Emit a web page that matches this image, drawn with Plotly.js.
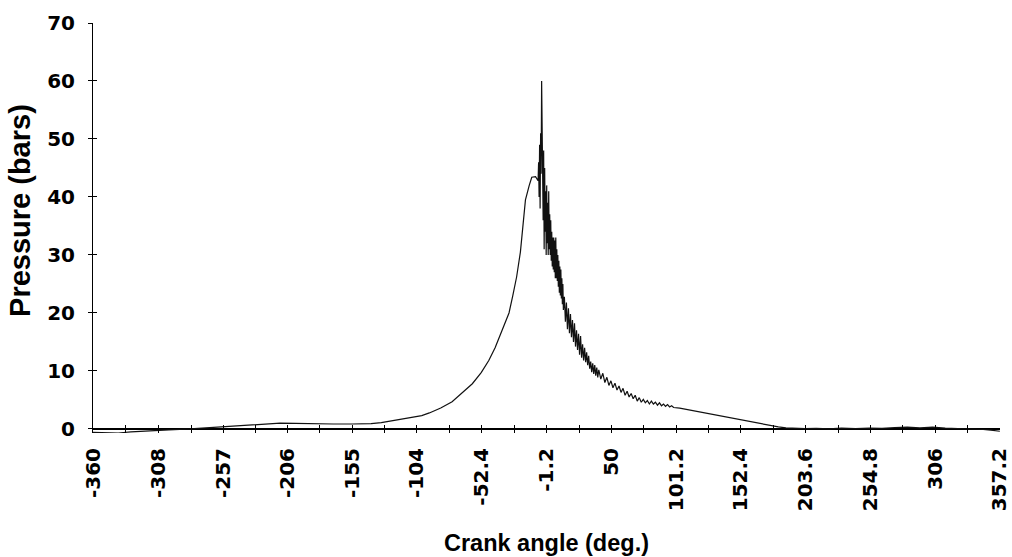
<!DOCTYPE html>
<html>
<head>
<meta charset="utf-8">
<script src="https://cdn.plot.ly/plotly-3.0.1.min.js"></script>
<style>
  html, body { margin: 0; padding: 0; background: #fff; }
  #chart { width: 1012px; height: 557px; }
</style>
</head>
<body>
<div id="chart"></div>
<script>
// Cylinder pressure over one engine cycle (crank angle in degrees, pressure in bars)

// Intake and compression stroke
const compressionAngle = [-360, -350, -340, -330, -317, -300, -283, -270, -257, -245, -231, -220, -212,
  -200, -186, -170, -155, -140, -132, -125, -115, -108, -100, -94, -85, -76, -68, -60, -53, -47, -42,
  -37, -31, -28, -25, -22, -20, -18, -15, -13, -10, -9, -8];
const compressionPressure = [-0.6, -0.7, -0.7, -0.5, -0.3, -0.15, 0, 0.2, 0.4, 0.55, 0.7, 0.85, 1.0,
  0.95, 0.85, 0.85, 0.85, 0.9, 1.1, 1.35, 1.65, 1.9, 2.3, 2.76, 3.6, 4.7, 6.2, 7.8, 9.7, 11.8, 14.0,
  16.8, 20, 23, 26.2, 30.5, 35, 39.5, 42, 43.4, 43.5, 43.2, 42.8];

// Combustion around TDC, with strong pressure oscillation
const combustionAngle = [-7.6, -7.2, -6.8, -6.4, -6.0, -5.6, -5.2, -4.8, -4.4, -4.0, -3.6, -3.2, -2.8,
  -2.4, -2.0, -1.6, -1.2, -0.8, -0.4, 0, 0.4, 0.8, 1.2, 1.6, 2.0, 2.4, 2.8, 3.2, 3.6, 4.0, 4.4, 4.8,
  5.2, 5.6, 6.0, 6.4, 6.8, 7.2, 7.6, 8.0, 8.4, 8.8, 9.2, 9.6, 10.0, 10.4, 10.8, 11.2, 11.6, 12.0];
const combustionPressure = [46, 40, 49, 38, 51, 44, 60, 47, 52, 36, 48, 31, 45,
  34, 41, 30, 42, 32, 39, 30, 41, 31, 37, 30, 36, 29, 34, 28, 33, 27.5, 33, 27,
  32.5, 26, 33, 26, 31, 25.5, 30, 24.5, 29, 23.5, 28, 23, 27.5, 22.5, 26, 21.5, 25, 20.5];

// Early expansion, oscillation dying out
const earlyExpansionAngle = [12.8, 13.6, 14.4, 15.2, 16.0, 16.8, 17.6, 18.4, 19.2, 20.0, 20.8, 21.6,
  22.4, 23.2, 24.0, 24.8, 25.6, 26.4, 27.2, 28.0, 28.8, 29.6, 30.4, 31.2, 32.0, 32.8, 33.6, 34.4,
  35.2, 36.0, 36.8, 37.6, 38.4, 39.2, 40.0,
  41.6, 43.2, 44.8, 46.4, 48.0, 49.6, 51.2, 52.8, 54.4, 56.0, 57.6, 59.2, 60.8, 62.4, 64.0, 65.6,
  67.2, 68.8, 70.4, 72.0, 73.6, 75.2, 76.8, 78.4, 80.0, 81.6, 83.2, 84.8, 86.4, 88.0, 89.6, 91.2,
  92.8, 94.4, 96.0, 97.6, 99.2];
const earlyExpansionPressure = [22.8, 18.5, 21.8, 17.2, 20.8, 16.5, 19.8, 15.8, 18.8, 15.0, 18.2, 14.2,
  17.0, 13.6, 16.4, 12.8, 16.0, 12.3, 14.6, 11.8, 14.0, 11.5, 13.2, 11.0, 12.6, 10.4, 11.6, 9.8,
  11.3, 9.5, 11.0, 9.2, 10.6, 8.9, 10.2,
  8.6, 9.6, 8.0, 8.9, 7.5, 8.3, 7.1, 7.9, 6.7, 7.4, 6.3, 7.0, 5.8, 6.5, 5.5, 6.1,
  5.2, 5.8, 4.8, 5.4, 4.6, 5.1, 4.5, 4.9, 4.3, 4.8, 4.3, 4.6, 4.1, 4.5, 4.0, 4.3,
  3.9, 4.2, 3.8, 4.0, 3.7];

// Late expansion and exhaust stroke
const exhaustAngle = [104, 110, 118, 125, 132, 138, 144, 151, 158, 164, 170, 176, 182, 188, 195, 203,
  212, 222, 232, 243, 254, 264, 274, 284, 294, 304, 314, 324, 334, 344, 350, 357.2];
const exhaustPressure = [3.6, 3.35, 3.0, 2.75, 2.4, 2.15, 1.9, 1.65, 1.4, 1.15, 0.85, 0.55, 0.35, 0.2,
  0.1, 0.05, 0.1, 0.0, 0.15, 0.05, 0.15, 0.1, 0.25, 0.3, 0.2, 0.3, 0.15, 0.1, 0.0, -0.1, -0.2, -0.4];

// Axis labels
const crankTickLabels = ['-360', '-308', '-257', '-206', '-155', '-104', '-52.4', '-1.2', '50',
  '101.2', '152.4', '203.6', '254.8', '306', '357.2'];
const pressureTicks = [0, 10, 20, 30, 40, 50, 60, 70];

const crankAngle = compressionAngle.concat(combustionAngle, earlyExpansionAngle, exhaustAngle);
const pressure = compressionPressure.concat(combustionPressure, earlyExpansionPressure, exhaustPressure);

const crankTickVals = crankTickLabels.map(Number);
const crankMinorVals = crankTickVals.slice(1).map((v, i) => (v + crankTickVals[i]) / 2);

const tickFont = { family: 'DejaVu Sans, sans-serif', size: 20, color: '#000', weight: 'bold' };
const titleFont = { family: 'Liberation Sans, Arial, sans-serif', color: '#000', weight: 'bold' };

const trace = {
  x: crankAngle,
  y: pressure,
  type: 'scatter',
  mode: 'lines',
  line: { color: '#111', width: 1.2 },
  hoverinfo: 'x+y',
  showlegend: false
};

// Inner half of the "+" ticks on the pressure axis
const tickMirror = {
  x: [crankAngle[0]],
  y: [pressure[0]],
  type: 'scatter',
  mode: 'lines',
  yaxis: 'y2',
  hoverinfo: 'skip',
  showlegend: false,
  line: { width: 0 }
};

const layout = {
  width: 1012,
  height: 557,
  margin: { l: 93, r: 12, t: 23, b: 124 },
  paper_bgcolor: '#fff',
  plot_bgcolor: '#fff',
  xaxis: {
    range: [-360, 357.3],
    tickmode: 'array',
    tickvals: crankTickVals,
    ticktext: crankTickLabels,
    tickangle: -90,
    ticks: 'inside',
    ticklen: 8,
    tickwidth: 1,
    tickcolor: '#000',
    minor: { tickmode: 'array', tickvals: crankMinorVals, ticks: 'inside', ticklen: 8, tickwidth: 1, tickcolor: '#000', showgrid: false },
    showline: false,
    showgrid: false,
    zeroline: false,
    tickfont: tickFont,
    ticklabelstandoff: 10,
    ticklabeloverflow: 'allow',
    automargin: false,
    title: {
      text: 'Crank angle (deg.)',
      font: Object.assign({ size: 23.5 }, titleFont),
      standoff: 24
    }
  },
  yaxis: {
    range: [-0.7, 70],
    tickmode: 'array',
    tickvals: pressureTicks,
    ticks: 'outside',
    ticklen: 4,
    tickwidth: 1,
    tickcolor: '#000',
    showline: true,
    linecolor: '#000',
    linewidth: 1,
    showgrid: false,
    zeroline: true,
    zerolinecolor: '#000',
    zerolinewidth: 1.4,
    tickfont: tickFont,
    ticklabelstandoff: 9,
    automargin: false
  },
  yaxis2: {
    overlaying: 'y',
    side: 'left',
    range: [-0.7, 70],
    tickmode: 'array',
    tickvals: pressureTicks,
    ticks: 'inside',
    ticklen: 4,
    tickwidth: 1,
    tickcolor: '#000',
    showticklabels: false,
    showline: false,
    showgrid: false,
    zeroline: false
  },
  annotations: [{
    text: 'Pressure (bars)',
    font: Object.assign({ size: 29 }, titleFont),
    textangle: -90,
    xref: 'paper',
    yref: 'paper',
    x: -0.0805,
    y: 0.544,
    xanchor: 'center',
    yanchor: 'middle',
    showarrow: false
  }]
};

Plotly.newPlot('chart', [trace, tickMirror], layout, { displayModeBar: false, staticPlot: true });
</script>
</body>
</html>
